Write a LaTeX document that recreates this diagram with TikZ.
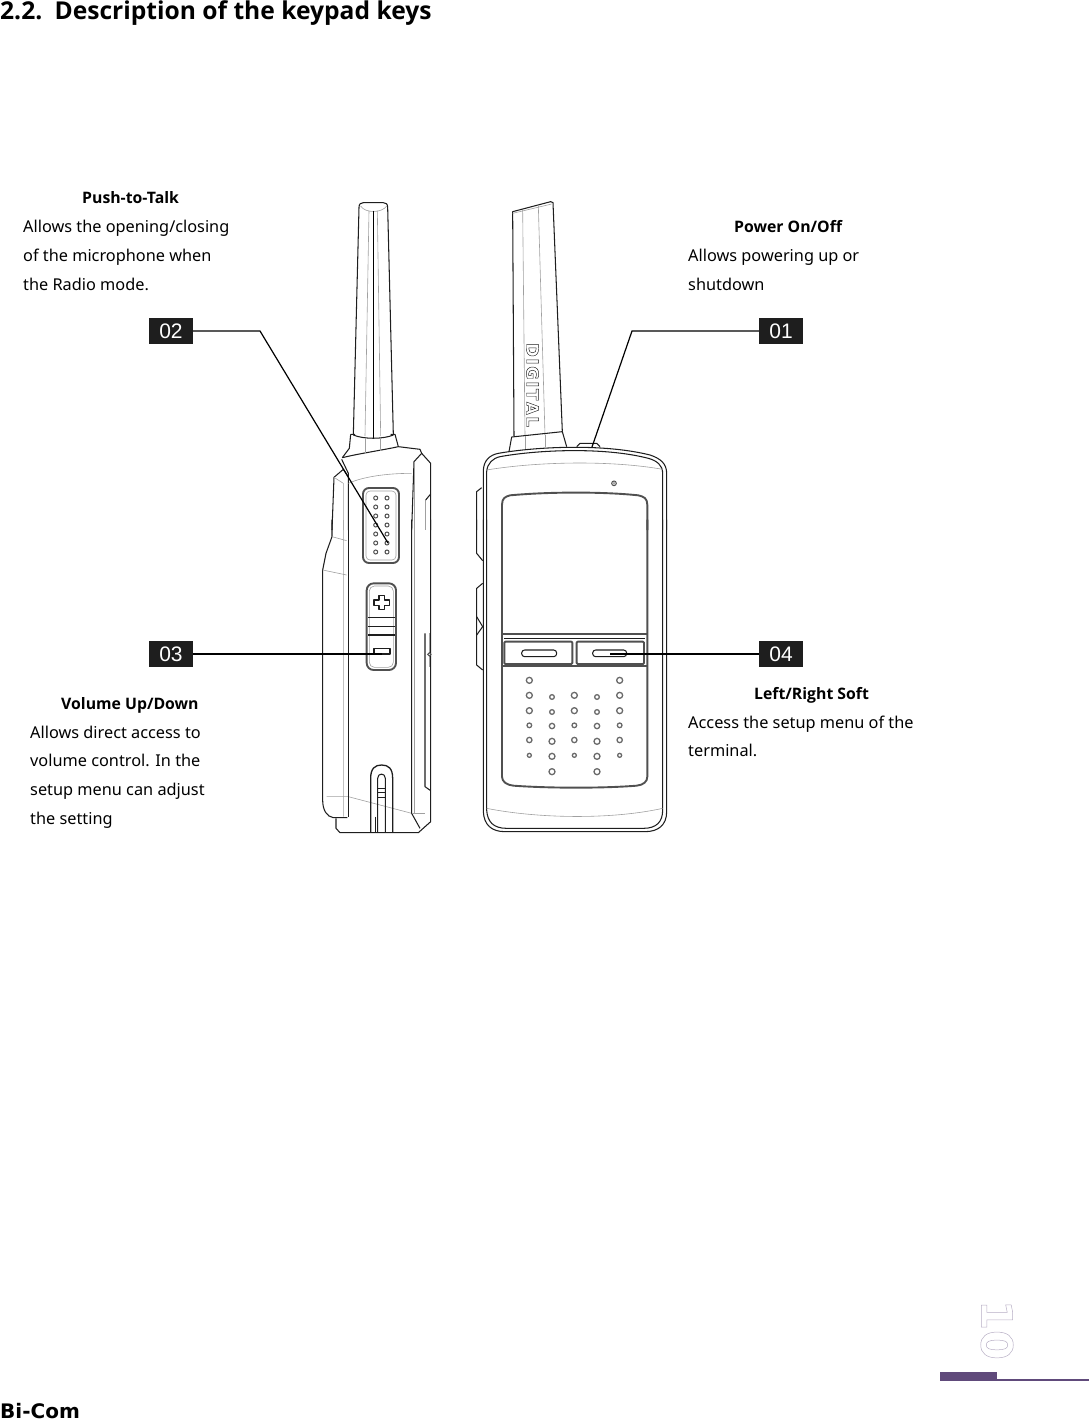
\documentclass[tikz,border=0pt]{standalone}
\usepackage{fontspec}
\setmainfont{Noto Sans}
\newfontfamily\labelbold{Open Sans}
\newfontfamily\badgefont{Liberation Sans}
\newfontfamily\brandfont{DejaVu Sans}
\newcommand{\outl}[2]{\special{pdf:code #1 w 1 Tr}#2\special{pdf:code 0 Tr 0 w}}
\definecolor{ink}{HTML}{1E1E1E}
\definecolor{soft}{HTML}{A0A0A0}
\definecolor{mid}{HTML}{505050}
\definecolor{pagepurple}{HTML}{604A7B}
\tikzset{
  txt/.style={anchor=base west,inner sep=0pt,font=\fontsize{16.3}{18}\selectfont,text=black},
  txtb/.style={txt,font=\labelbold\bfseries\fontsize{15.8}{18}\selectfont},
  badge/.style={fill=ink,text=white,minimum width=44pt,minimum height=26pt,inner sep=0pt,font=\badgefont\fontsize{21}{21}\selectfont},
  lead/.style={draw=black,line width=1.2pt},
  body/.style={draw=ink,line width=1.05pt,line join=round},
  thick body/.style={draw=mid,line width=1.9pt,line join=round},
  faint/.style={draw=soft,line width=0.6pt},
  hole/.style={draw=mid,line width=1pt,fill=white},
}
\begin{document}
\begin{tikzpicture}[x=1pt,y=-1pt]
\useasboundingbox (0,0) rectangle (1089,1421);
% headings and labels
\node[txt,font=\labelbold\bfseries\fontsize{24.6}{28}\selectfont] (title) at (0,20) {2.2.\hspace{0.5em}Description of the keypad keys};
\node[txtb] (ptt) at (82,203) {Push-to-Talk};
\node[txt] (ptta) at (23,232) {Allows the opening/closing};
\node[txt] (pttb) at (23,261) {of the microphone when};
\node[txt] (pttc) at (23,290) {the Radio mode.};
\node[txtb] (pwr) at (734,232) {Power On/Off};
\node[txt] (pwra) at (688,261) {Allows powering up or};
\node[txt] (pwrb) at (688,290) {shutdown};
\node[txtb] (vol) at (61,709) {Volume Up/Down};
\node[txt] (vola) at (30,738) {Allows direct access to};
\node[txt] (volb) at (30,766) {volume control. In the};
\node[txt] (volc) at (30,795) {setup menu can adjust};
\node[txt] (vold) at (30,824) {the setting};
\node[txtb] (lrs) at (754,699) {Left/Right Soft};
\node[txt] (lrsa) at (688,728) {Access the setup menu of the};
\node[txt] (lrsb) at (688,756) {terminal.};
\node[anchor=base west,inner sep=0pt,font=\brandfont\fontsize{20}{20}\selectfont\bfseries] (brand) at (0,1418) {Bi-Com};

% left radio, upper part
\begin{scope}[shift={(310,190)},scale=1/3]
  \draw[body] (130,735) -- (147,52) .. controls (147,42) and (152,38) .. (160,38) -- (220,38) .. controls (228,38) and (233,42) .. (233,52) -- (250,735);
  \draw[faint] (165,738) -- (177,62) (212,738) -- (202,62);
  \draw[faint] (152,48) .. controls (165,70) and (215,70) .. (230,48);
  \draw[draw=black,line width=1.1pt] (190,62) -- (190,745);
  \draw[body] (130,735) .. controls (160,748) and (220,748) .. (250,735);
  \draw[body] (122,733) -- (118,775) -- (97,803) (122,733) -- (135,733) (255,733) -- (242,733) (255,733) -- (265,770) -- (330,778) -- (335,790);
  \draw[body] (97,803) .. controls (150,790) and (220,780) .. (265,770);
  \draw[faint] (165,745) -- (165,790) (212,745) -- (212,782);
  \draw[body] (95,808) -- (115,850) -- (115,1020);
  \draw[faint] (115,880) .. controls (160,860) and (230,850) .. (305,850);
  \draw[body] (335,790) -- (362,820) -- (362,1020);
  \draw[body] (335,790) -- (312,815) -- (305,1020);
  \draw[faint] (312,815) -- (312,1020) (345,930) -- (345,1020);
  \draw[body] (362,912) -- (347,930);
  \draw[body] (100,838) -- (72,862) -- (66,1020) (100,838) -- (115,860);
  \draw[faint] (72,862) -- (100,880) -- (100,1020);
\end{scope}

% left radio, lower part
\begin{scope}[shift={(310,520)},scale=1/3]
  \draw[body] (66,-1) -- (66,50) -- (48,100) -- (38,150) -- (38,840) .. controls (38,870) and (50,890) .. (70,893) -- (112,893);
  \draw[faint] (100,0) -- (100,890) (66,50) -- (110,62) (38,150) -- (110,165) (50,830) -- (115,830) -- (305,880);
  \draw[body] (115,-1) -- (115,890);
  \draw[body] (78,895) -- (78,925) -- (90,938) -- (325,938) -- (362,905) -- (362,-1);
  \draw[body] (305,-1) -- (305,880) -- (330,925);
  \draw[faint] (312,0) -- (312,880) (305,880) -- (345,880);
  \draw[body] (345,340) -- (345,800) -- (362,812);
  \draw[faint] (357,340) -- (357,440);
  \draw[hole] (358,403) circle (5);
  % volume key
  \draw[thick body,rounded corners=7] (170,190) rectangle (258,450);
  \draw[faint,rounded corners=5] (178,198) rectangle (250,442);
  \draw[body] (175,293) -- (255,293) (175,320) -- (255,320) (175,345) -- (255,345);
  \draw[body] (207,227) -- (223,227) -- (223,240) -- (238,240) -- (238,256) -- (223,256) -- (223,268) -- (207,268) -- (207,256) -- (192,256) -- (192,240) -- (207,240) -- cycle;
  \draw[body] (192,385) rectangle (240,402);
  % belt clip
  \draw[draw=ink,line width=1.3pt] (182,938) -- (182,775) .. controls (182,745) and (195,735) .. (215,735) .. controls (235,735) and (248,745) .. (248,775) -- (248,938);
  \draw[body] (203,938) -- (203,775) .. controls (203,758) and (226,758) .. (226,775) -- (226,938);
  \draw[body] (203,805) -- (226,805) (203,818) -- (226,818) (203,832) -- (226,832) (196,890) -- (196,938);
\end{scope}

% PTT key
\draw[thick body,rounded corners=6] (363,488) rectangle (399,563);
\draw[faint,rounded corners=4] (366,491) rectangle (396,560);
\foreach \r in {0,...,6}{
  \draw[hole] (375.7,498+9*\r) circle (2);
  \draw[hole] (387,498+9*\r) circle (2);
}

% right radio, upper part
\begin{scope}[shift={(310,190)},scale=1/3]
  \draw[body] (612,738) -- (608,65) -- (722,35) -- (729,38) -- (757,725);
  \draw[faint] (608,70) -- (725,42) (638,60) -- (645,738) (685,48) -- (705,735);
  \draw[body] (605,741) -- (757,725) -- (770,770) (605,741) -- (597,785);
  \draw[faint] (645,738) -- (645,780) (705,735) -- (705,772);
  \draw[body] (800,770) -- (810,760) -- (860,760) -- (870,770);
  \draw[body] (520,1020) -- (520,840) .. controls (522,810) and (540,795) .. (565,790) .. controls (680,770) and (880,760) .. (1020,795) .. controls (1050,805) and (1070,820) .. (1070,850) -- (1070,1020);
  \draw[body] (530,1020) -- (530,845) .. controls (532,820) and (548,805) .. (570,800) .. controls (680,780) and (880,770) .. (1015,805) .. controls (1040,812) and (1058,825) .. (1058,850) -- (1058,1020);
  \draw[faint] (530,840) .. controls (680,815) and (900,810) .. (1058,838);
  \draw[hole] (912,880) circle (7);
  \draw[faint,line width=0.8pt] (912,880) circle (3);
  \draw[thick body] (576,1020) -- (576,945) .. controls (576,925) and (585,920) .. (600,916) .. controls (720,905) and (880,905) .. (985,916) .. controls (1002,920) and (1012,925) .. (1012,945) -- (1012,1020);
  \draw[body] (500,1020) -- (500,905) -- (515,893);
\end{scope}
\node[rotate=-90,inner sep=0pt,font=\brandfont\fontsize{16.5}{16}\selectfont\bfseries,text=ink] (digital) at (532.5,385) {\outl{0.45}{D\kern1.6pt I\kern1.6pt G\kern1.6pt I\kern1.6pt T\kern1.6pt A\kern1.6pt L}};

% right radio, lower part
\begin{scope}[shift={(310,520)},scale=1/3]
  \draw[body] (520,-1) -- (520,875) .. controls (522,915) and (545,935) .. (585,935) -- (1005,935) .. controls (1045,935) and (1070,915) .. (1070,875) -- (1070,-1);
  \draw[body] (530,-1) -- (530,870) .. controls (532,905) and (550,925) .. (590,925) -- (1000,925) .. controls (1040,925) and (1058,905) .. (1058,870) -- (1058,-1);
  \draw[faint] (530,865) .. controls (680,895) and (900,900) .. (1058,865);
  \draw[thick body] (576,-1) -- (576,770) .. controls (576,785) and (590,795) .. (610,797) .. controls (720,805) and (880,805) .. (980,797) .. controls (1000,795) and (1012,785) .. (1012,770) -- (1012,-1);
  \draw[thick body] (576,343) -- (1012,343) (576,437) -- (1012,437);
  \draw[body] (583,355) -- (1005,355);
  \draw[thick body,rounded corners=1] (583,365) rectangle (787,432);
  \draw[thick body,rounded corners=1] (800,365) rectangle (1002,432);
  \draw[body,rounded corners=3] (635,390) rectangle (740,410);
  \draw[body,rounded corners=3] (848,390) rectangle (950,410);
  % side keys
  \draw[body] (500,-1) -- (500,100) -- (518,122);
  \draw[body] (518,190) -- (500,205) -- (500,435) -- (518,450);
  \draw[body] (500,290) -- (518,320) -- (500,345);
  % speaker
  \foreach \x/\y/\r in {658/481/9,929/481/9,
    658/526/9,793/526/9,929/526/9,726/531/7,861/531/7,
    658/572/9,793/572/9,929/572/9,726/576/7,861/576/7,
    658/616/7,793/616/7,929/616/7,726/618/8,861/618/8,
    658/660/8,793/660/8,929/660/8,726/664/9,861/664/9,
    658/706/6,793/706/6,929/706/6,726/709/9,861/709/9,
    726/755/9,861/755/9}
    \draw[hole,draw=mid!85,line width=1.3pt] (\x,\y) circle (\r);
\end{scope}

% badges and leaders
\node[badge] (b02) at (171,331) {02};
\node[badge] (b01) at (781,331) {01};
\node[badge] (b03) at (171,654) {03};
\node[badge] (b04) at (781,654) {04};
\coordinate (k02) at (388,543);
\coordinate (k01) at (592,447);
\coordinate (k03) at (382,654);
\coordinate (k04) at (610,654);
\draw[lead] (b02.east) -- (260,331) -- (k02);
\draw[lead] (b01.west) -- (632,331) -- (k01);
\draw[lead] (b03.east) -- (k03);
\draw[lead] (b04.west) -- (k04);

% page furniture
\node[rotate=-90,inner sep=0pt,font=\brandfont\fontsize{43}{43}\selectfont\bfseries,text=pagepurple!45] (pageno) at (997,1330) {\outl{0.5}{10}};
\fill[pagepurple] (940,1372) rectangle (997,1381);
\fill[pagepurple] (997,1379) rectangle (1089,1381);
\end{tikzpicture}
\end{document}
